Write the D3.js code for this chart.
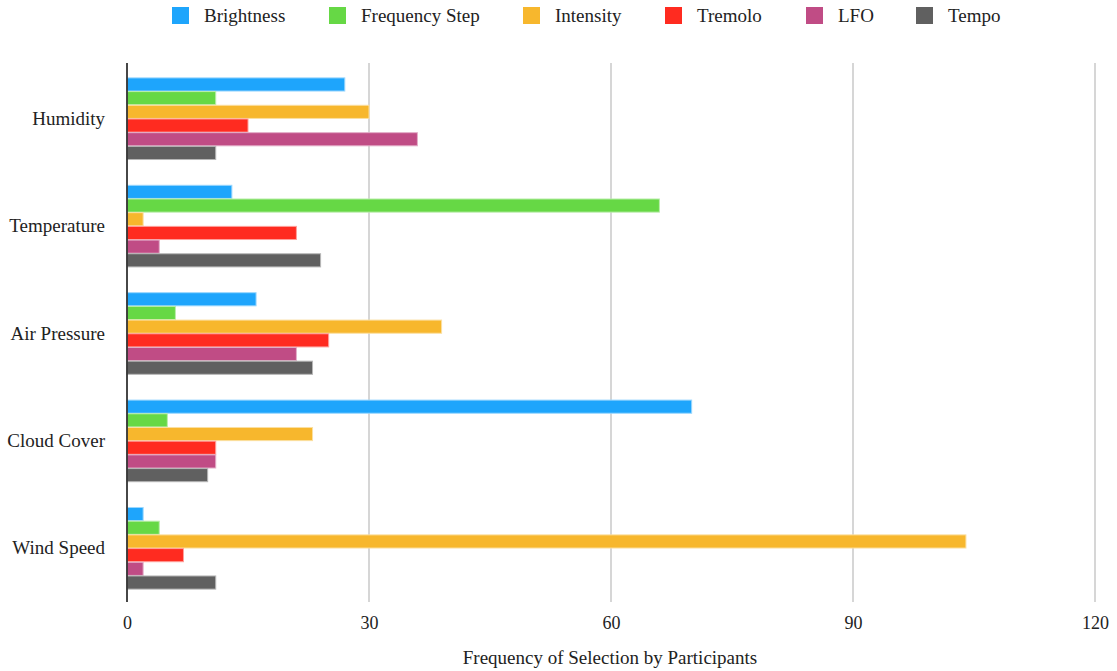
<!DOCTYPE html>
<html>
<head>
<meta charset="utf-8">
<script src="https://cdn.jsdelivr.net/npm/d3@7"></script>
<style>
  html, body { margin: 0; padding: 0; background: #fff; }
  svg { display: block; }
  text { font-family: "Liberation Serif", "Times New Roman", serif; fill: #222; }
</style>
</head>
<body>
<svg id="chart" width="1117" height="671"></svg>
<script>
// Sensor parameters (rows) and the sound mappings chosen for each
const categories = ["Humidity", "Temperature", "Air Pressure", "Cloud Cover", "Wind Speed"];
const seriesNames = ["Brightness", "Frequency Step", "Intensity", "Tremolo", "LFO", "Tempo"];
const seriesColors = ["#1ea5fc", "#66d845", "#f7b72d", "#ff2b20", "#c04c85", "#606060"];

// Counts per series, in category order
const brightness    = [27, 13, 16, 70, 2];
const frequencyStep = [11, 66, 6, 5, 4];
const intensity     = [30, 2, 39, 23, 104];
const tremolo       = [15, 21, 25, 11, 7];
const lfo           = [36, 4, 21, 11, 2];
const tempo         = [11, 24, 23, 10, 11];

const xTicks = [0, 30, 60, 90, 120];
const xTitle = "Frequency of Selection by Participants";

const seriesValues = [brightness, frequencyStep, intensity, tremolo, lfo, tempo];

const svg = d3.select("#chart");
const W = 1117;
const plotTop = 63, plotBottom = 602;

const x = d3.scaleLinear().domain([0, 120]).range([127, 1095]);
const y = d3.scaleBand().domain(categories)
  .range([65, plotBottom])
  .paddingInner(0.24).paddingOuter(0.12);
const ySub = d3.scaleBand().domain(seriesNames)
  .range([0, y.bandwidth()]).paddingInner(0.04);

// Vertical gridlines
svg.append("g").selectAll("line")
  .data(xTicks.filter(t => t !== 0))
  .join("line")
  .attr("x1", d => x(d)).attr("x2", d => x(d))
  .attr("y1", plotTop).attr("y2", plotBottom)
  .attr("stroke", "#cccccc").attr("stroke-width", 1.6);

// Bars
const rows = [];
categories.forEach((c, ci) => {
  seriesNames.forEach((s, si) => {
    rows.push({ cat: c, series: s, value: seriesValues[si][ci], color: seriesColors[si] });
  });
});

svg.append("g").selectAll("rect")
  .data(rows)
  .join("rect")
  .attr("x", x(0))
  .attr("y", d => y(d.cat) + ySub(d.series))
  .attr("width", d => x(d.value) - x(0))
  .attr("height", ySub.bandwidth())
  .attr("fill", d => d.color)
  .attr("stroke", d => d3.interpolateRgb(d.color, "#ffffff")(0.55))
  .attr("stroke-width", 1);

// Baseline axis line
svg.append("line")
  .attr("x1", x(0)).attr("x2", x(0))
  .attr("y1", plotTop).attr("y2", plotBottom)
  .attr("stroke", "#333").attr("stroke-width", 1.8);

// X axis tick labels
const xAxis = d3.axisBottom(x).tickValues(xTicks).tickSize(0).tickPadding(0);
const gx = svg.append("g")
  .attr("transform", `translate(0,${plotBottom})`)
  .call(xAxis);
gx.select(".domain").remove();
gx.selectAll("text")
  .attr("dy", null)
  .attr("y", 27)
  .style("font-family", '"Liberation Serif", serif')
  .style("font-size", "18px")
  .attr("fill", "#222");

// Category labels
const yAxis = d3.axisLeft(y).tickSize(0).tickPadding(22);
const gy = svg.append("g")
  .attr("transform", `translate(${x(0)},0)`)
  .call(yAxis);
gy.select(".domain").remove();
gy.selectAll("text")
  .style("font-family", '"Liberation Serif", serif')
  .style("font-size", "19px")
  .attr("fill", "#222");

// Axis title
svg.append("text")
  .attr("x", 610).attr("y", 664)
  .attr("text-anchor", "middle")
  .style("font-size", "19px")
  .text(xTitle);

// Legend across the top
const legendX = [172, 329, 523, 665, 806, 916];
const legend = svg.append("g");
seriesNames.forEach((s, i) => {
  const g = legend.append("g").attr("transform", `translate(${legendX[i]},0)`);
  g.append("rect").attr("x", 0).attr("y", 7).attr("width", 17).attr("height", 17)
    .attr("fill", seriesColors[i]);
  g.append("text").attr("x", 32).attr("y", 22)
    .style("font-size", "19px").text(s);
});
</script>
</body>
</html>
